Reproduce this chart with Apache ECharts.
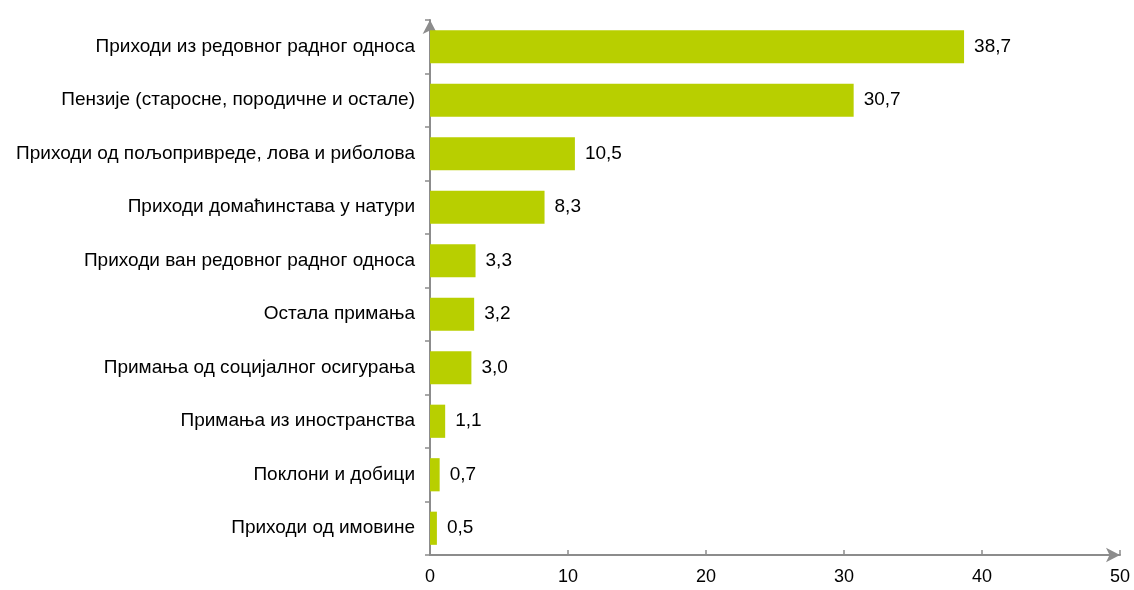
<!DOCTYPE html>
<html>
<head>
<meta charset="utf-8">
<script src="https://cdn.jsdelivr.net/npm/echarts@6/dist/echarts.min.js"></script>
<style>
  html, body { margin: 0; padding: 0; background: #fff; }
  #chart { width: 1134px; height: 590px; }
</style>
</head>
<body>
<div id="chart"></div>
<script>
// категорије и вредности (%)
var categories = [
  "Приходи из редовног радног односа",
  "Пензије (старосне, породичне и остале)",
  "Приходи од пољопривреде, лова и риболова",
  "Приходи домаћинстава у натури",
  "Приходи ван редовног радног односа",
  "Остала примања",
  "Примања од социјалног осигурања",
  "Примања из иностранства",
  "Поклони и добици",
  "Приходи од имовине"
];
var values = [38.7, 30.7, 10.5, 8.3, 3.3, 3.2, 3.0, 1.1, 0.7, 0.5];
var xTicks = [0, 10, 20, 30, 40, 50];

var chart = echarts.init(document.getElementById("chart"));
var axisColor = "#8c8c8c";
var font = "Arial, 'Liberation Sans', sans-serif";

var option = {
  animation: false,
  grid: {
    left: 430,
    right: 14,
    top: 20,
    bottom: 35,
    containLabel: false
  },
  xAxis: {
    type: "value",
    min: xTicks[0],
    max: xTicks[xTicks.length - 1],
    interval: 10,
    splitLine: { show: false },
    axisLine: {
      show: true,
      symbol: ["none", "arrow"],
      symbolSize: [11, 14],
      lineStyle: { color: axisColor, width: 2 }
    },
    axisTick: {
      show: true,
      inside: true,
      length: 5,
      lineStyle: { color: axisColor, width: 1.5 }
    },
    axisLabel: {
      color: "#000",
      fontSize: 18,
      fontFamily: font,
      margin: 13
    }
  },
  yAxis: {
    type: "category",
    data: categories,
    inverse: true,
    axisLine: {
      show: true,
      symbol: ["none", "arrow"],
      symbolSize: [11, 14],
      lineStyle: { color: axisColor, width: 2 }
    },
    axisTick: {
      show: true,
      length: 5,
      lineStyle: { color: axisColor, width: 1.5 }
    },
    axisLabel: {
      color: "#000",
      fontSize: 19,
      fontFamily: font,
      margin: 15
    }
  },
  series: [
    {
      type: "bar",
      data: values,
      barWidth: "62%",
      itemStyle: { color: "#b8cf00" },
      label: {
        show: true,
        position: "right",
        distance: 10,
        color: "#000",
        fontSize: 19,
        fontFamily: font,
        formatter: function (p) {
          return p.value.toFixed(1).replace(".", ",");
        }
      }
    }
  ]
};

chart.setOption(option);
</script>
</body>
</html>
